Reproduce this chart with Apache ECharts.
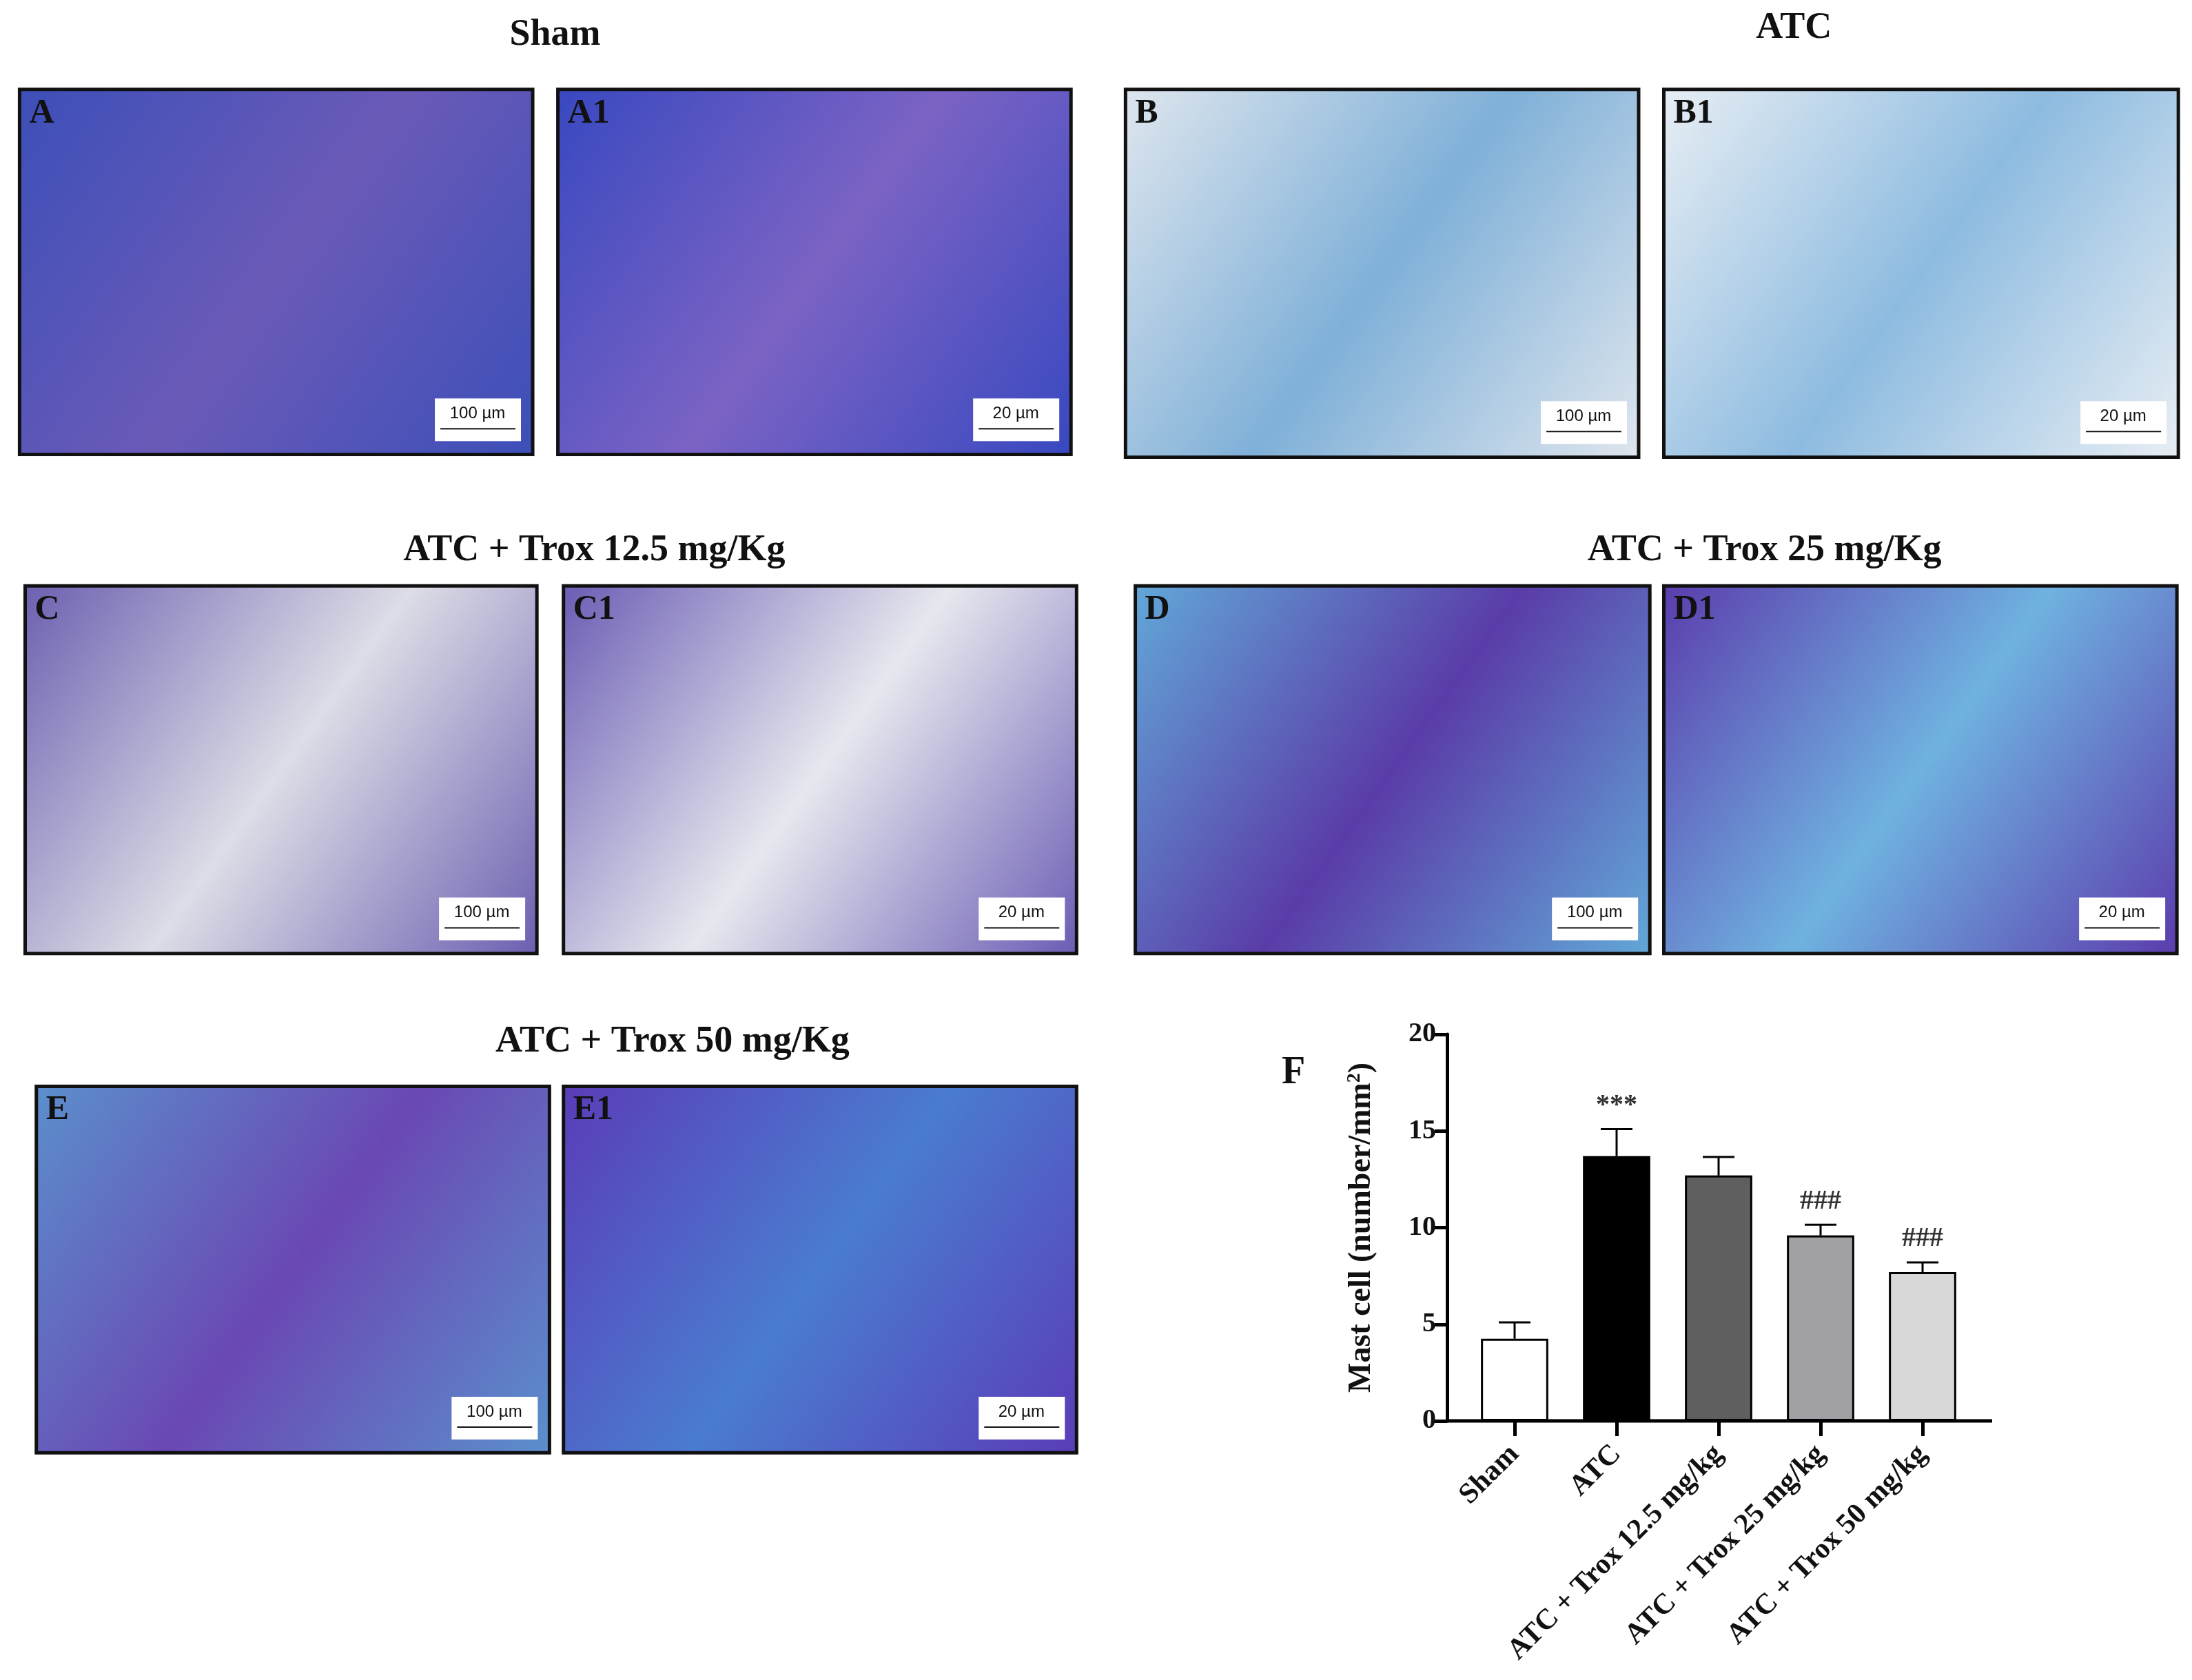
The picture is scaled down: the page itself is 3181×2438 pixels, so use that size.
<!DOCTYPE html>
<html><head><meta charset="utf-8">
<script src="https://cdn.jsdelivr.net/npm/echarts@6/dist/echarts.min.js"></script>
<style>html,body{margin:0;padding:0;background:#fff}#c{width:3181px;height:2438px}</style>
</head><body><div id="c"></div>
<script>
const categories = ['Sham','ATC','ATC + Trox 12.5 mg/kg','ATC + Trox 25 mg/kg','ATC + Trox 50 mg/kg'];
const means = [4.25, 13.7, 12.7, 9.6, 7.7];
const errUpper = [5.1, 15.1, 13.65, 10.15, 8.2];
const marks = ['', '***', '', '###', '###'];
const barColors = ['#ffffff','#000000','#5f5f5f','#a1a1a5','#d8d8d8'];
const yTicks = [0,5,10,15,20];

const S = 2.029;
const panels = [
  ['A',14,64,367,261,'#3c4fb8','#6a5ab8','100 µm'],
  ['A1',399,64,367,261,'#3848c0','#7b63c4','20 µm'],
  ['B',805,64,367,263,'#dfe6ee','#7fb0d8','100 µm'],
  ['B1',1190,64,368,263,'#e8eef4','#8dbbe0','20 µm'],
  ['C',18,419,366,263,'#6b5fb0','#dcdde6','100 µm'],
  ['C1',403,419,367,263,'#6a5cb4','#e6e8ee','20 µm'],
  ['D',812,419,368,263,'#62a8d8','#5a3ca8','100 µm'],
  ['D1',1190,419,367,263,'#5b3cad','#6fb2e0','20 µm'],
  ['E',26,777,367,262,'#5b8fcc','#6a48b4','100 µm'],
  ['E1',403,777,367,262,'#5a3cb8','#4a7cd0','20 µm']
];
const titles = [['Sham',397,25],['ATC',1283,20],['ATC + Trox 12.5 mg/Kg',425,394],['ATC + Trox 25 mg/Kg',1262,394],['ATC + Trox 50 mg/Kg',481,745]];

const g = [];
panels.forEach(p=>{
  const [lab,x,y,w,h,c1,c2,sb]=p;
  g.push({type:'rect',shape:{x:x*S,y:y*S,width:w*S,height:h*S},
    style:{fill:new echarts.graphic.LinearGradient(0,0,1,1,[{offset:0,color:c1},{offset:0.5,color:c2},{offset:1,color:c1}]),stroke:'#111',lineWidth:5}});
  g.push({type:'text',x:x*S+14,y:y*S+10,style:{text:lab,font:'bold 50px "Liberation Serif"',fill:'#111'}});
  const bx=(x+w-70)*S, by=(y+h-40)*S;
  g.push({type:'rect',shape:{x:bx,y:by,width:125,height:62},style:{fill:'#fff'}});
  g.push({type:'text',x:bx+62,y:by+10,style:{text:sb,font:'24px "Liberation Sans"',fill:'#111',align:'center'}});
  g.push({type:'line',shape:{x1:bx+8,y1:by+44,x2:bx+117,y2:by+44},style:{stroke:'#111',lineWidth:2}});
});
titles.forEach(t=>g.push({type:'text',x:t[1]*S,y:t[2]*S,style:{text:t[0],font:'bold 54px "Liberation Serif"',fill:'#111',align:'center',verticalAlign:'middle'}}));
g.push({type:'text',x:1877,y:1558,style:{text:'F',font:'bold 56px "Liberation Serif"',fill:'#111',align:'center',verticalAlign:'middle'}});
g.push({type:'line',shape:{x1:2100,y1:2062,x2:2891,y2:2062},style:{stroke:'#000',lineWidth:5}});

const chart = echarts.init(document.getElementById('c'));
chart.setOption({
  backgroundColor:'#fff',
  animation:false,
  grid:{left:2124,top:1501,width:740,height:561},
  xAxis:{type:'category',data:categories,
    axisLine:{show:false},
    axisTick:{show:true,alignWithLabel:true,length:22,lineStyle:{color:'#000',width:5}},
    axisLabel:{rotate:45,interval:0,margin:42,color:'#111',fontFamily:'Liberation Serif',fontWeight:'bold',fontSize:42}},
  yAxis:{type:'value',min:0,max:20,interval:5,offset:24,
    axisLine:{show:true,lineStyle:{color:'#000',width:5}},
    axisTick:{show:true,length:18,lineStyle:{color:'#000',width:5}},
    splitLine:{show:false},
    axisLabel:{color:'#111',fontFamily:'Liberation Serif',fontWeight:'bold',fontSize:40,margin:16,
      formatter:v=>yTicks.includes(v)?String(v):''},
    name:'{a|Mast cell (number/mm}{s|2}{a|)}',nameLocation:'middle',nameGap:100,nameRotate:90,
    nameTextStyle:{rich:{a:{fontFamily:'Liberation Serif',fontWeight:'bold',fontSize:46,color:'#111'},
      s:{fontFamily:'Liberation Serif',fontWeight:'bold',fontSize:28,color:'#111',verticalAlign:'bottom',padding:[0,0,20,0]}}}},
  series:[
    {type:'bar',barWidth:'66%',data:means.map((v,i)=>({value:v,itemStyle:{color:barColors[i]}})),
      itemStyle:{borderColor:'#000',borderWidth:3},z:2},
    {type:'custom',z:3,data:means.map((v,i)=>[i,v,errUpper[i]]),
      renderItem:(params,api)=>{
        const top=api.coord([api.value(0),api.value(2)]);
        const bot=api.coord([api.value(0),api.value(1)]);
        const i=api.value(0);
        const ch=[
          {type:'line',shape:{x1:top[0],y1:top[1],x2:bot[0],y2:bot[1]},style:{stroke:'#000',lineWidth:3}},
          {type:'line',shape:{x1:top[0]-23,y1:top[1],x2:top[0]+23,y2:top[1]},style:{stroke:'#000',lineWidth:3}}
        ];
        if(marks[i]) ch.push({type:'text',x:top[0],y:top[1]-14,style:{text:marks[i],font:'bold 40px "Liberation Serif"',fill:'#333',align:'center',verticalAlign:'bottom'}});
        return {type:'group',children:ch};
      }}
  ],
  graphic:g
});
</script></body></html>
